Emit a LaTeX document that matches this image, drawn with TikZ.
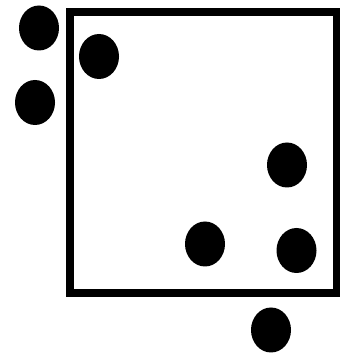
\documentclass[tikz,border=0pt]{standalone}
\usetikzlibrary{shapes.geometric}
\begin{document}
\begin{tikzpicture}[x=1pt,y=1pt,
  dot/.style={ellipse, fill=black, inner sep=0pt, minimum width=40pt, minimum height=45pt},
  frame/.style={draw=black, line width=8pt, inner sep=0pt, minimum width=267pt, minimum height=281pt}]
\useasboundingbox (0,0) rectangle (340,354);
\node[frame] (box) at (203.5,201.5) {};
\node[dot] (d1) at (39,326) {};
\node[dot] (d2) at (99,297.5) {};
\node[dot] (d3) at (35,251.5) {};
\node[dot] (d4) at (287,189) {};
\node[dot] (d5) at (205,110) {};
\node[dot] (d6) at (296.5,103.5) {};
\node[dot] (d7) at (271,24) {};
\end{tikzpicture}
\end{document}
